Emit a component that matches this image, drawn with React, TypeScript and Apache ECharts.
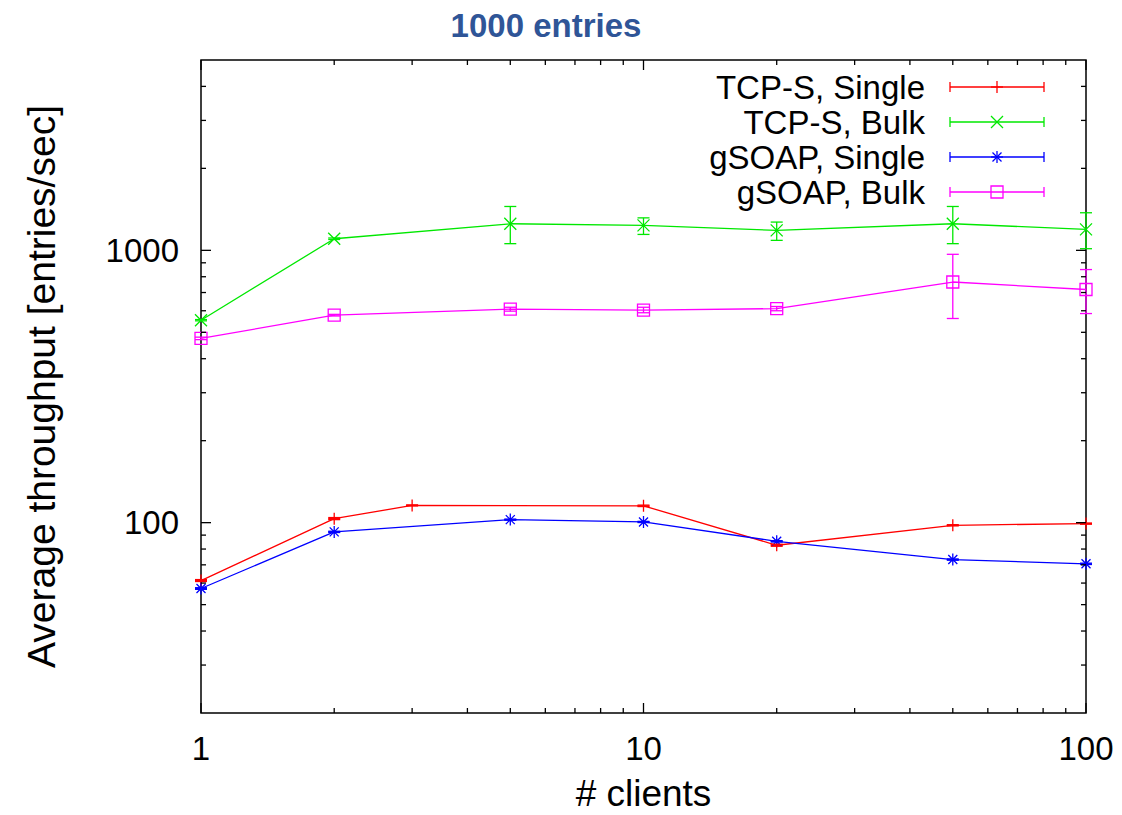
import React, { useEffect, useRef } from "react";
import * as echarts from "echarts";

// ---------- data ----------
const TITLE = "1000 entries";
const X_NAME = "# clients";
const Y_NAME = "Average throughput [entries/sec]";

const X_MIN = 1;
const X_MAX = 100;
const Y_MIN = 20;
const Y_MAX = 5000;

const SERIES_NAMES = ["TCP-S, Single", "TCP-S, Bulk", "gSOAP, Single", "gSOAP, Bulk"];
const SERIES_COLORS = ["#ff0000", "#00e800", "#0000ff", "#ff00ff"];
const SERIES_MARKERS = ["plus", "cross", "star", "square"];

const TCP_SINGLE_X = [1, 2, 3, 10, 20, 50, 100];
const TCP_SINGLE_Y = [61.3, 103.4, 115.7, 115.3, 82.6, 97.8, 99.2];
const TCP_SINGLE_LO = [60.8, 102.6, 115.2, 114.6, 81.9, 97.3, 98.7];
const TCP_SINGLE_HI = [61.8, 104.4, 116.2, 116.0, 83.3, 98.3, 99.7];

const TCP_BULK_X = [1, 2, 5, 10, 20, 50, 100];
const TCP_BULK_Y = [554, 1103, 1252, 1235, 1184, 1252, 1194];
const TCP_BULK_LO = [551, 1096, 1058, 1144, 1088, 1058, 1014];
const TCP_BULK_HI = [557, 1110, 1449, 1316, 1270, 1449, 1374];

const GSOAP_SINGLE_X = [1, 2, 5, 10, 20, 50, 100];
const GSOAP_SINGLE_Y = [57.3, 92.5, 102.6, 100.6, 85.4, 73.2, 70.6];
const GSOAP_SINGLE_LO = [56.9, 92.0, 102.1, 100.1, 84.9, 72.8, 70.2];
const GSOAP_SINGLE_HI = [57.7, 93.0, 103.1, 101.1, 85.9, 73.6, 71.0];

const GSOAP_BULK_X = [1, 2, 5, 10, 20, 50, 100];
const GSOAP_BULK_Y = [475, 578, 608, 603, 611, 765, 718];
const GSOAP_BULK_LO = [470, 574, 598, 590, 600, 562, 586];
const GSOAP_BULK_HI = [480, 582, 618, 618, 622, 967, 850];

const X_MAJOR_TICKS = [1, 10, 100];
const X_MINOR_TICKS = [2, 3, 4, 5, 6, 7, 8, 9, 20, 30, 40, 50, 60, 70, 80, 90];
const Y_MAJOR_TICKS = [100, 1000];
const Y_MINOR_TICKS = [30, 40, 50, 60, 70, 80, 90, 200, 300, 400, 500, 600, 700, 800, 900, 2000, 3000, 4000];

const ALL_X = [TCP_SINGLE_X, TCP_BULK_X, GSOAP_SINGLE_X, GSOAP_BULK_X];
const ALL_Y = [TCP_SINGLE_Y, TCP_BULK_Y, GSOAP_SINGLE_Y, GSOAP_BULK_Y];
const ALL_LO = [TCP_SINGLE_LO, TCP_BULK_LO, GSOAP_SINGLE_LO, GSOAP_BULK_LO];
const ALL_HI = [TCP_SINGLE_HI, TCP_BULK_HI, GSOAP_SINGLE_HI, GSOAP_BULK_HI];

// ---------- styles ----------
const FONT = '"Liberation Sans", Arial, Helvetica, sans-serif';
const MAJOR_LEN = 10;
const MINOR_LEN = 5;
const CAP = 6;
const MS = 12;

const SYMBOL_PATHS: Record<string, string> = {
  plus: "path://M0,6 L12,6 M6,0 L6,12",
  cross: "path://M0,0 L12,12 M0,12 L12,0",
  star: "path://M0,6 L12,6 M6,0 L6,12 M1.5,1.5 L10.5,10.5 M1.5,10.5 L10.5,1.5",
  square: "path://M0,0 L12,0 L12,12 L0,12 Z",
};

function markerGraphic(kind: string, cx: number, cy: number, color: string) {
  const h = MS / 2;
  const st = { stroke: color, lineWidth: 1.3 };
  const ln = (x1: number, y1: number, x2: number, y2: number) => ({
    type: "line",
    shape: { x1, y1, x2, y2 },
    style: st,
  });
  if (kind === "plus") return [ln(cx - h, cy, cx + h, cy), ln(cx, cy - h, cx, cy + h)];
  if (kind === "cross") return [ln(cx - h, cy - h, cx + h, cy + h), ln(cx - h, cy + h, cx + h, cy - h)];
  if (kind === "star")
    return [
      ln(cx - h, cy, cx + h, cy),
      ln(cx, cy - h, cx, cy + h),
      ln(cx - h * 0.75, cy - h * 0.75, cx + h * 0.75, cy + h * 0.75),
      ln(cx - h * 0.75, cy + h * 0.75, cx + h * 0.75, cy - h * 0.75),
    ];
  return [
    {
      type: "rect",
      shape: { x: cx - h, y: cy - h, width: MS, height: MS },
      style: { fill: "none", stroke: color, lineWidth: 1.3 },
    },
  ];
}

function buildLegend() {
  const els: any[] = [];
  SERIES_NAMES.forEach((name, i) => {
    const y = 87 + 35 * i;
    const c = SERIES_COLORS[i];
    els.push({
      type: "text",
      x: 925,
      y,
      style: {
        text: name,
        fill: "#000",
        font: `33px ${FONT}`,
        textAlign: "right",
        textVerticalAlign: "middle",
      },
    });
    const st = { stroke: c, lineWidth: 1.3 };
    els.push({ type: "line", shape: { x1: 950, y1: y, x2: 1044, y2: y }, style: st });
    els.push({ type: "line", shape: { x1: 950, y1: y - 5, x2: 950, y2: y + 5 }, style: st });
    els.push({ type: "line", shape: { x1: 1044, y1: y - 5, x2: 1044, y2: y + 5 }, style: st });
    markerGraphic(SERIES_MARKERS[i], 997, y, c).forEach((e) => els.push(e));
  });
  return els;
}

function isPow10(v: number) {
  const l = Math.log10(v);
  return Math.abs(l - Math.round(l)) < 1e-6;
}

export default function App() {
  const ref = useRef<HTMLDivElement>(null);

  useEffect(() => {
    if (!ref.current) return;
    const chart = echarts.init(ref.current, null, { renderer: "svg" });

    const tickData: number[][] = [];
    X_MAJOR_TICKS.forEach((v) => tickData.push([v, Y_MIN, MAJOR_LEN, 0]));
    X_MINOR_TICKS.forEach((v) => tickData.push([v, Y_MIN, MINOR_LEN, 0]));
    Y_MAJOR_TICKS.forEach((v) => tickData.push([X_MIN, v, MAJOR_LEN, 1]));
    Y_MINOR_TICKS.forEach((v) => tickData.push([X_MIN, v, MINOR_LEN, 1]));

    const lineSeries = SERIES_NAMES.map((name, i) => ({
      name,
      type: "line",
      data: ALL_X[i].map((x, j) => [x, ALL_Y[i][j]]),
      symbol: SYMBOL_PATHS[SERIES_MARKERS[i]],
      symbolSize: MS,
      showSymbol: true,
      lineStyle: { color: SERIES_COLORS[i], width: 1.3 },
      itemStyle: { color: "transparent", borderColor: SERIES_COLORS[i], borderWidth: 1.3 },
      z: 3,
      silent: true,
    }));

    const errSeries = SERIES_NAMES.map((name, i) => ({
      name: name + " err",
      type: "custom",
      data: ALL_X[i].map((x, j) => [x, ALL_LO[i][j], ALL_HI[i][j]]),
      encode: { x: 0, y: [1, 2] },
      z: 4,
      silent: true,
      renderItem: (params: any, api: any) => {
        const x = api.value(0);
        const p1 = api.coord([x, api.value(1)]);
        const p2 = api.coord([x, api.value(2)]);
        const st = { stroke: SERIES_COLORS[i], lineWidth: 1.3 };
        return {
          type: "group",
          children: [
            { type: "line", shape: { x1: p1[0], y1: p1[1], x2: p2[0], y2: p2[1] }, style: st },
            { type: "line", shape: { x1: p1[0] - CAP, y1: p1[1], x2: p1[0] + CAP, y2: p1[1] }, style: st },
            { type: "line", shape: { x1: p2[0] - CAP, y1: p2[1], x2: p2[0] + CAP, y2: p2[1] }, style: st },
          ],
        };
      },
    }));

    const tickSeries = {
      name: "ticks",
      type: "custom",
      data: tickData,
      encode: { x: 0, y: 1 },
      z: 5,
      silent: true,
      renderItem: (params: any, api: any) => {
        const v0 = api.value(0);
        const v1 = api.value(1);
        const len = api.value(2);
        const orient = api.value(3);
        const st = { stroke: "#000", lineWidth: 1.3 };
        if (orient === 0) {
          const b = api.coord([v0, Y_MIN]);
          const t = api.coord([v0, Y_MAX]);
          return {
            type: "group",
            children: [
              { type: "line", shape: { x1: b[0], y1: b[1], x2: b[0], y2: b[1] - len }, style: st },
              { type: "line", shape: { x1: t[0], y1: t[1], x2: t[0], y2: t[1] + len }, style: st },
            ],
          };
        }
        const l = api.coord([X_MIN, v1]);
        const r = api.coord([X_MAX, v1]);
        return {
          type: "group",
          children: [
            { type: "line", shape: { x1: l[0], y1: l[1], x2: l[0] + len, y2: l[1] }, style: st },
            { type: "line", shape: { x1: r[0], y1: r[1], x2: r[0] - len, y2: r[1] }, style: st },
          ],
        };
      },
    };

    chart.setOption({
      animation: false,
      backgroundColor: "#ffffff",
      title: {
        text: TITLE,
        left: 541,
        textAlign: "center",
        top: 4,
        textStyle: { fontFamily: FONT, fontSize: 33, fontWeight: "bold", color: "#2f5597" },
      },
      grid: {
        left: 201,
        top: 60,
        width: 885,
        height: 653,
        show: true,
        borderColor: "#000",
        borderWidth: 1.5,
        backgroundColor: "transparent",
        containLabel: false,
        outerBoundsMode: "none",
      },
      xAxis: {
        type: "log",
        logBase: 10,
        min: X_MIN,
        max: X_MAX,
        name: X_NAME,
        nameLocation: "middle",
        nameGap: 62,
        nameTextStyle: { fontFamily: FONT, fontSize: 37, color: "#000" },
        axisLine: { show: false },
        axisTick: { show: false },
        splitLine: { show: false },
        minorTick: { show: false },
        axisLabel: {
          fontFamily: FONT,
          fontSize: 33,
          color: "#000",
          margin: 19,
          formatter: (v: number) => (isPow10(v) ? String(Math.round(v)) : ""),
        },
      },
      yAxis: {
        type: "log",
        logBase: 10,
        min: Y_MIN,
        max: Y_MAX,
        name: Y_NAME,
        nameLocation: "middle",
        nameRotate: 90,
        nameGap: 140,
        nameTextStyle: { fontFamily: FONT, fontSize: 39, color: "#000" },
        axisLine: { show: false },
        axisTick: { show: false },
        splitLine: { show: false },
        minorTick: { show: false },
        axisLabel: {
          fontFamily: FONT,
          fontSize: 33,
          color: "#000",
          margin: 22,
          formatter: (v: number) => (isPow10(v) ? String(Math.round(v)) : ""),
        },
      },
      graphic: buildLegend(),
      series: [...lineSeries, ...errSeries, tickSeries],
    });

    return () => chart.dispose();
  }, []);

  return (
    <div
      ref={ref}
      style={{ position: "fixed", left: 0, top: 0, width: 1122, height: 815, background: "#fff" }}
    />
  );
}
